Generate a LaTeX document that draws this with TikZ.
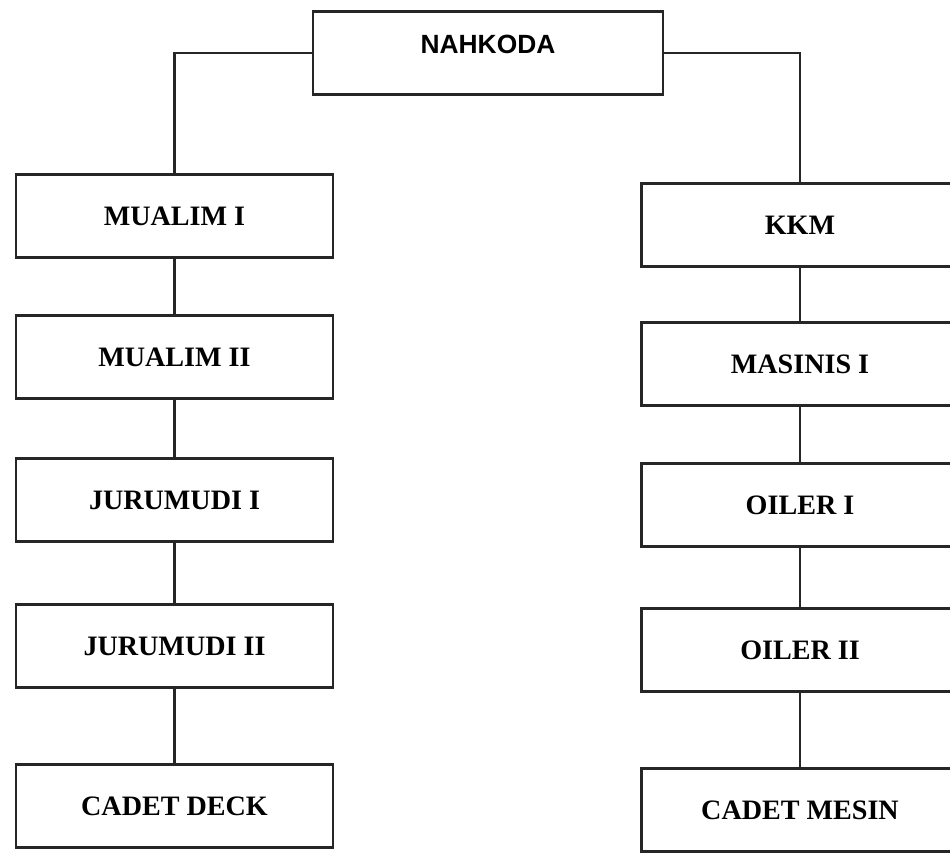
\documentclass[tikz,border=0pt]{standalone}
\usepackage{fontspec}
\setmainfont{Liberation Serif}
\setsansfont{Liberation Sans}

\begin{document}
\begin{tikzpicture}[%
    x=0.02cm, y=-0.02cm,
    post/.style={
      % The shape:
      rectangle,
      % The size:
      minimum width=6.34cm,
      minimum height=1.66cm,
      % The border:
      draw=black!85,
      line width=1.5pt,
      % The text:
      font=\bfseries\fontsize{16}{18}\selectfont,
    },
    chief/.style={
      post,
      minimum width=7cm,
      font=\sffamily\bfseries\fontsize{15}{17}\selectfont,
      % push the text up a little
      text depth=0.36cm,
    },
    link/.style={
      line width=1.5pt,
      color=black!85,
    }]
  \useasboundingbox (0,0) rectangle (950,854);
  \clip (0,0) rectangle (950,854);

  \node[chief] (nahkoda) at (488,53) {NAHKODA};

  % deck side
  \node[post] (mualim1)   at (174.5,216) {MUALIM I};
  \node[post] (mualim2)   at (174.5,357) {MUALIM II};
  \node[post] (jurumudi1) at (174.5,500) {JURUMUDI I};
  \node[post] (jurumudi2) at (174.5,646) {JURUMUDI II};
  \node[post] (cadetdeck) at (174.5,806) {CADET DECK};

  % engine side
  \node[post] (kkm)        at (800,225) {KKM};
  \node[post] (masinis1)   at (800,364) {MASINIS I};
  \node[post] (oiler1)     at (800,505) {OILER I};
  \node[post] (oiler2)     at (800,650) {OILER II};
  \node[post] (cadetmesin) at (800,810) {CADET MESIN};

  \draw[link] (nahkoda.west) -| (mualim1.north);
  \draw[link] (nahkoda.east) -| (kkm.north);
  \foreach \a/\b in {mualim1/mualim2, mualim2/jurumudi1, jurumudi1/jurumudi2,
                     jurumudi2/cadetdeck, kkm/masinis1, masinis1/oiler1,
                     oiler1/oiler2, oiler2/cadetmesin}
    \draw[link] (\a) -- (\b);

\end{tikzpicture}
\end{document}
